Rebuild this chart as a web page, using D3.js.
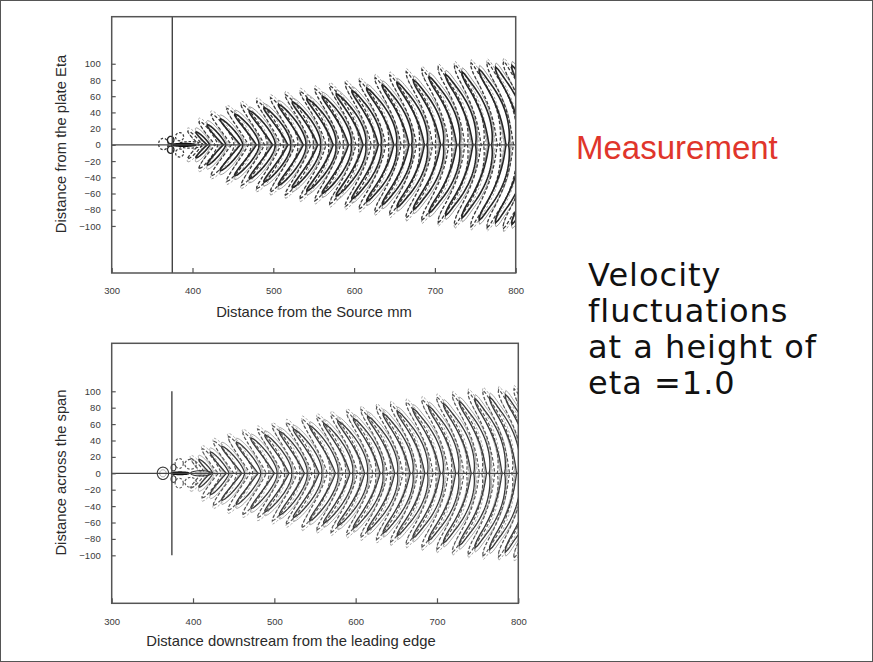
<!DOCTYPE html>
<html>
<head>
<meta charset="utf-8">
<script src="https://cdn.jsdelivr.net/npm/d3@7"></script>
<style>
  body { margin: 0; background: #fff; }
  svg { display: block; }
</style>
</head>
<body>
<svg id="slide" width="873" height="662"></svg>
<script>
// ---- axis ticks (mm) ----
const xTickValues = [300, 400, 500, 600, 700, 800];
const yTickValues = [-100, -80, -60, -40, -20, 0, 20, 40, 60, 80, 100];

// ---- upper panel: measured wave packet ----
// positive wavefronts: centreline tip x, spanwise reach, backward sweep of the arms, bluntness of the front
const topCrestTip   = [421, 441, 462, 482, 502, 521, 540, 558, 577, 596, 614, 633, 652, 671, 690, 710, 730, 750, 770, 791, 811, 831];
const topCrestReach = [16, 25, 32, 38, 42, 46, 50, 53, 57, 60, 63, 67, 70, 74, 77, 80, 84, 87, 90, 93, 96, 98];
const topCrestSweep = [15, 21, 26, 28, 30, 31, 32, 33, 34, 34, 35, 35, 36, 36, 37, 37, 38, 38, 38, 38, 38, 38];
const topCrestBlunt = [1.1, 1.1, 1.2, 1.3, 1.3, 1.4, 1.4, 1.5, 1.6, 1.6, 1.7, 1.7, 1.8, 1.8, 1.9, 1.9, 2.0, 2.0, 2.0, 2.1, 2.1, 2.1];
// negative wavefronts
const topTroughTip   = [411, 431, 451, 472, 492, 512, 530, 549, 568, 586, 605, 624, 642, 661, 680, 700, 720, 740, 760, 780, 800, 820, 840];
const topTroughReach = [17, 29, 38, 45, 50, 54, 58, 62, 66, 69, 73, 76, 79, 83, 86, 90, 93, 96, 99, 101, 102, 103, 103];
// small lobes round the source
const topSourceLoops = [
  { x: 364, y: 1,   rx: 6,  ry: 7,   kind: "neg" },
  { x: 373, y: 6,   rx: 4,  ry: 4.5, kind: "pos" },
  { x: 373, y: -6,  rx: 4,  ry: 4.5, kind: "pos" },
  { x: 384, y: 10,  rx: 5,  ry: 5,   kind: "neg" },
  { x: 384, y: -10, rx: 5,  ry: 5,   kind: "neg" },
  { x: 397, y: 0,   rx: 16, ry: 4,   kind: "neg" },
  { x: 389, y: 0,   rx: 15, ry: 1.6, kind: "core" }
];

// ---- lower panel: computed wave packet ----
const botCrestTip   = [424, 444, 463, 483, 503, 521, 540, 558, 578, 596, 614, 633, 651, 670, 688, 707, 726, 745, 764, 783, 801, 820, 839];
const botCrestReach = [17, 26, 33, 38, 43, 47, 51, 54, 58, 61, 64, 67, 70, 73, 76, 79, 82, 85, 88, 91, 93, 96, 98];
const botCrestSweep = [15, 21, 26, 28, 30, 31, 32, 33, 33, 34, 35, 35, 36, 36, 37, 37, 37, 38, 38, 38, 38, 38, 38];
const botCrestBlunt = [1.1, 1.1, 1.2, 1.2, 1.3, 1.4, 1.4, 1.5, 1.5, 1.6, 1.7, 1.7, 1.8, 1.8, 1.9, 1.9, 2.0, 2.0, 2.1, 2.1, 2.1, 2.1, 2.1];
const botTroughTip   = [414, 434, 453, 473, 493, 512, 531, 549, 568, 587, 605, 624, 642, 661, 679, 698, 717, 736, 755, 774, 792, 811, 830];
const botTroughReach = [18, 30, 39, 45, 50, 54, 58, 62, 66, 69, 72, 75, 78, 81, 84, 87, 90, 93, 96, 99, 101, 102, 103];
const botSourceLoops = [
  { x: 363, y: 0,   rx: 7,  ry: 7.5, kind: "pos" },
  { x: 363, y: 0,   rx: 4,  ry: 4.3, kind: "low" },
  { x: 376, y: 7,   rx: 3,  ry: 4,   kind: "pos" },
  { x: 376, y: -7,  rx: 3,  ry: 4,   kind: "pos" },
  { x: 383, y: 12,  rx: 5,  ry: 6,   kind: "neg" },
  { x: 383, y: -12, rx: 5,  ry: 6,   kind: "neg" },
  { x: 397, y: 11,  rx: 7,  ry: 6,   kind: "neg" },
  { x: 397, y: -11, rx: 7,  ry: 6,   kind: "neg" },
  { x: 410, y: 0,   rx: 13, ry: 3.2, kind: "pos" },
  { x: 410, y: 0,   rx: 8,  ry: 1.6, kind: "low" },
  { x: 384, y: 0,   rx: 11, ry: 1.4, kind: "core" }
];

const FONT = "'Liberation Sans', Arial, Helvetica, sans-serif";
const svg = d3.select("#slide");

// slide border
svg.append("rect")
  .attr("x", 0.5).attr("y", 0.5).attr("width", 872).attr("height", 661)
  .attr("fill", "none").attr("stroke", "#555").attr("stroke-width", 1);

// closed contour round one wavefront: a boomerang band, thin at the centreline,
// wider in the arms; the widest fronts turn slightly forward at the very ends
function frontLoop(tip, reach, sweep, blunt, hc, ha) {
  const n = 64, right = [], left = [];
  const curl = Math.max(0, (reach - 60) * 0.1);
  for (let i = 0; i <= n; i++) {
    const t = -1 + 2 * i / n;
    const a = Math.abs(t);
    const h = Math.sqrt(Math.max(0, 1 - t * t)) * (hc + (ha - hc) * Math.pow(a, 0.6));
    const s = Math.max(0, (a - 0.8) / 0.2);
    const c = tip - hc - sweep * Math.pow(a, blunt) + curl * s * s;
    right.push([c + h, t * reach]);
    left.push([c - h, t * reach]);
  }
  return right.concat(left.reverse());
}

function ellipseLoop(d) {
  const pts = [];
  for (let i = 0; i < 40; i++) {
    const a = 2 * Math.PI * i / 40;
    pts.push([d.x + d.rx * Math.cos(a), d.y + d.ry * Math.sin(a)]);
  }
  return pts;
}

const armWidth = r => Math.min(7, 1.8 + r * 0.13);

function drawPanel(cfg) {
  const x = d3.scaleLinear().domain([300, 800]).range([cfg.left, cfg.right]);
  const y = d3.scaleLinear().domain([-cfg.yHalf, cfg.yHalf]).range([cfg.bottom, cfg.top]);
  const g = svg.append("g");
  const clipId = cfg.id + "-clip";
  svg.append("defs").append("clipPath").attr("id", clipId)
    .append("rect")
    .attr("x", cfg.left).attr("y", cfg.top)
    .attr("width", cfg.right - cfg.left).attr("height", cfg.bottom - cfg.top);

  const line = d3.line().x(d => x(d[0])).y(d => y(d[1])).curve(d3.curveLinearClosed);
  const plot = g.append("g").attr("clip-path", `url(#${clipId})`);
  const st = cfg.style;

  // lower-level contours (grey) first
  cfg.crestTip.forEach((tip, i) => {
    const r = cfg.crestReach[i];
    plot.append("path")
      .attr("d", line(frontLoop(tip + 1.8, r + 5, cfg.crestSweep[i], cfg.crestBlunt[i], 3.2, armWidth(r) + 2.2)))
      .attr("fill", "none").attr("stroke", st.low).attr("stroke-width", st.lowW);
  });
  cfg.troughTip.forEach((tip, i) => {
    const k = Math.min(i, cfg.crestTip.length - 1);
    const r = cfg.troughReach[i];
    plot.append("path")
      .attr("d", line(frontLoop(tip + 1.8, r + 4, cfg.crestSweep[k], cfg.crestBlunt[k], 3.2, armWidth(r) + 2.2)))
      .attr("fill", "none").attr("stroke", st.low).attr("stroke-width", st.lowW)
      .attr("stroke-dasharray", "2.5,2");
  });

  // negative fronts (dashed)
  cfg.troughTip.forEach((tip, i) => {
    const k = Math.min(i, cfg.crestTip.length - 1);
    const r = cfg.troughReach[i];
    plot.append("path")
      .attr("d", line(frontLoop(tip, r, cfg.crestSweep[k], cfg.crestBlunt[k], 1.3, armWidth(r))))
      .attr("fill", "none").attr("stroke", st.neg).attr("stroke-width", st.negW)
      .attr("stroke-dasharray", "3.5,2");
  });

  // positive fronts (solid)
  cfg.crestTip.forEach((tip, i) => {
    const r = cfg.crestReach[i];
    plot.append("path")
      .attr("d", line(frontLoop(tip, r, cfg.crestSweep[i], cfg.crestBlunt[i], 1.4, armWidth(r))))
      .attr("fill", "none").attr("stroke", st.pos).attr("stroke-width", st.posW);
  });

  // lobes round the source
  cfg.sourceLoops.forEach(d => {
    const p = plot.append("path").attr("d", line(ellipseLoop(d))).attr("fill", "none");
    if (d.kind === "pos") p.attr("stroke", st.pos).attr("stroke-width", st.posW * 0.85);
    else if (d.kind === "neg") p.attr("stroke", st.neg).attr("stroke-width", st.negW).attr("stroke-dasharray", "2.5,1.8");
    else if (d.kind === "low") p.attr("stroke", st.low).attr("stroke-width", st.lowW);
    else p.attr("fill", "#111").attr("stroke", "#111").attr("stroke-width", 1.6);
  });

  // centreline and source line
  g.append("line")
    .attr("x1", x(300)).attr("x2", x(800)).attr("y1", y(0)).attr("y2", y(0))
    .attr("stroke", "#444").attr("stroke-width", 1.3);
  g.append("line")
    .attr("x1", x(cfg.sourceX)).attr("x2", x(cfg.sourceX))
    .attr("y1", y(cfg.sourceSpan[0])).attr("y2", y(cfg.sourceSpan[1]))
    .attr("stroke", "#444").attr("stroke-width", 1.4);

  // frame
  g.append("rect")
    .attr("x", cfg.left).attr("y", cfg.top)
    .attr("width", cfg.right - cfg.left).attr("height", cfg.bottom - cfg.top)
    .attr("fill", "none").attr("stroke", "#555").attr("stroke-width", 1.5);

  // axes
  const ax = g.append("g").attr("transform", `translate(0,${cfg.bottom})`)
    .call(d3.axisBottom(x).tickValues(xTickValues).tickSize(-5).tickPadding(cfg.xPad));
  const ay = g.append("g").attr("transform", `translate(${cfg.left},0)`)
    .call(d3.axisLeft(y).tickValues(yTickValues).tickSize(-4).tickPadding(11));
  [ax, ay].forEach(a => {
    a.select(".domain").remove();
    a.selectAll(".tick line").attr("stroke", "#555").attr("stroke-width", 1.2);
    a.selectAll(".tick text")
      .attr("font-family", FONT).attr("font-size", 9.5).attr("fill", "#3a3a3a");
  });

  // titles
  g.append("text")
    .attr("x", cfg.xTitlePos[0]).attr("y", cfg.xTitlePos[1])
    .attr("text-anchor", "middle")
    .attr("font-family", FONT).attr("font-size", 14.8).attr("fill", "#2a2a2a")
    .text(cfg.xTitle);
  g.append("text")
    .attr("transform", `translate(${cfg.yTitlePos[0]},${cfg.yTitlePos[1]}) rotate(-90)`)
    .attr("text-anchor", "middle")
    .attr("font-family", FONT).attr("font-size", 14.8).attr("fill", "#2a2a2a")
    .text(cfg.yTitle);
}

drawPanel({
  id: "measured",
  left: 111.7, right: 515.7, top: 16.7, bottom: 273, yHalf: 158,
  crestTip: topCrestTip, crestReach: topCrestReach, crestSweep: topCrestSweep, crestBlunt: topCrestBlunt,
  troughTip: topTroughTip, troughReach: topTroughReach,
  sourceLoops: topSourceLoops,
  sourceX: 375, sourceSpan: [-158, 158],
  style: { pos: "#262626", posW: 1.6, neg: "#3a3a3a", negW: 1.25, low: "#9c9c9c", lowW: 1 },
  xPad: 14.5,
  xTitle: "Distance from the Source mm", xTitlePos: [314, 316.5],
  yTitle: "Distance from the plate Eta", yTitlePos: [65.5, 144]
});

drawPanel({
  id: "computed",
  left: 111.7, right: 518.3, top: 343.3, bottom: 603.3, yHalf: 158.5,
  crestTip: botCrestTip, crestReach: botCrestReach, crestSweep: botCrestSweep, crestBlunt: botCrestBlunt,
  troughTip: botTroughTip, troughReach: botTroughReach,
  sourceLoops: botSourceLoops,
  sourceX: 374, sourceSpan: [-100, 100],
  style: { pos: "#3a3a3a", posW: 1.3, neg: "#555", negW: 1.15, low: "#a8a8a8", lowW: 1 },
  xPad: 14.5,
  xTitle: "Distance downstream from the leading edge", xTitlePos: [291, 646],
  yTitle: "Distance across the span", yTitlePos: [65.5, 472.5]
});

// captions on the right
svg.append("text")
  .attr("x", 576).attr("y", 158.5)
  .attr("font-family", FONT).attr("font-size", 33).attr("fill", "#e0352b")
  .text("Measurement");

const captionLines = ["Velocity", "fluctuations", "at a height of", "eta =1.0"];
svg.append("text")
  .attr("font-family", "'DejaVu Sans', Verdana, sans-serif").attr("font-size", 32)
  .attr("letter-spacing", 1).attr("fill", "#111")
  .selectAll("tspan").data(captionLines).join("tspan")
  .attr("x", 588).attr("y", (d, i) => 286 + i * 36)
  .text(d => d);
</script>
</body>
</html>
